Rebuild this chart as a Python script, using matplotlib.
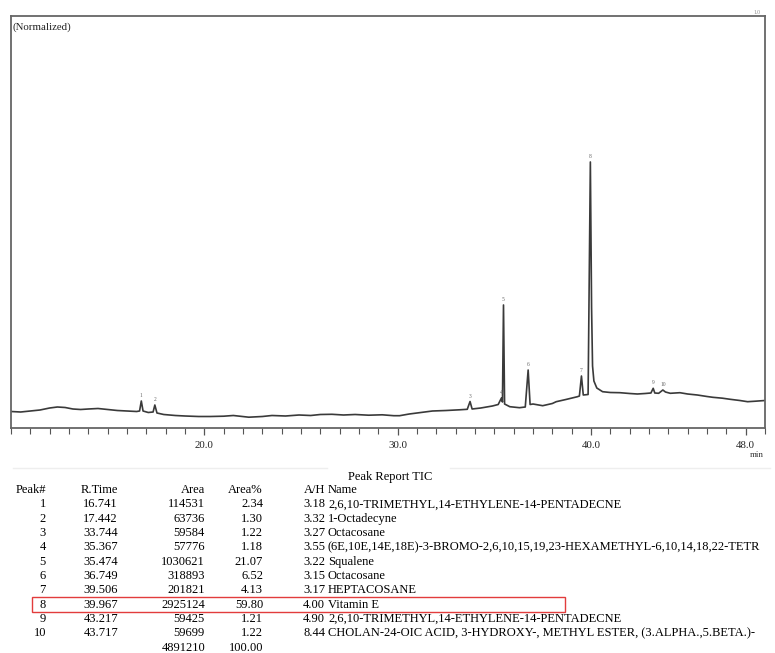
import matplotlib.pyplot as plt
from matplotlib.patches import Rectangle
from matplotlib.ticker import MultipleLocator, FixedLocator

# chromatogram trace (time in min, relative intensity)
rt_trace = [10.0, 10.5, 11.0, 11.5, 12.0, 12.4, 12.8, 13.2, 13.6, 14.0, 14.5, 15.0, 15.5,
            16.0, 16.5, 16.65, 16.74, 16.83, 17.1, 17.35, 17.44, 17.55, 17.9, 18.5, 19.0,
            19.7, 20.3, 21.0, 21.5, 22.3, 23.0, 23.5, 24.2, 24.9, 25.5, 26.0, 26.6, 27.2,
            27.8, 28.5, 29.2, 29.8, 30.1, 30.6, 31.2, 31.8, 32.5, 33.2, 33.6, 33.744, 33.85,
            34.3, 34.9, 35.2, 35.367, 35.42, 35.474, 35.53, 35.8, 36.3, 36.6, 36.749, 36.85,
            37.0, 37.5, 38.0, 38.2, 38.7, 39.3, 39.4, 39.506, 39.6, 39.85, 39.967, 40.03,
            40.08, 40.15, 40.3, 40.6, 41.0, 41.5, 42.0, 42.4, 42.8, 43.1, 43.217, 43.3,
            43.5, 43.717, 43.85, 44.1, 44.6, 45.0, 45.5, 46.0, 46.3, 46.8, 47.2, 47.7,
            48.1, 48.5, 49.0]
int_trace = [16.5, 16.0, 17.0, 18.0, 20.0, 21.0, 20.5, 19.0, 18.5, 19.0, 19.5, 18.5, 17.5,
             17.0, 16.5, 17.0, 27.0, 17.0, 15.5, 16.0, 23.0, 15.0, 13.5, 12.5, 12.0,
             11.5, 11.5, 11.8, 12.5, 10.8, 11.5, 12.5, 12.0, 13.0, 12.5, 13.5, 13.7, 13.0,
             13.5, 12.8, 13.2, 12.3, 12.3, 14.0, 15.5, 17.0, 17.5, 18.2, 18.7, 26.5, 19.0,
             20.0, 22.0, 23.5, 30.0, 26.0, 123.0, 24.0, 21.3, 20.3, 21.0, 58.0, 23.5,
             24.0, 22.3, 24.5, 26.3, 28.5, 31.3, 32.0, 52.0, 33.0, 33.5, 266.0, 120.0,
             62.0, 47.0, 40.0, 36.3, 35.5, 35.3, 34.5, 34.0, 34.5, 35.0, 39.7, 35.0,
             34.7, 38.0, 36.0, 34.7, 35.3, 34.0, 33.0, 31.5, 30.7, 29.8, 28.7, 27.5,
             26.3, 26.8, 27.5]

# peak report table
peak_no = ["1", "2", "3", "4", "5", "6", "7", "8", "9", "10"]
r_time = ["16.741", "17.442", "33.744", "35.367", "35.474", "36.749", "39.506", "39.967", "43.217", "43.717"]
area = ["114531", "63736", "59584", "57776", "1030621", "318893", "201821", "2925124", "59425", "59699"]
area_pct = ["2.34", "1.30", "1.22", "1.18", "21.07", "6.52", "4.13", "59.80", "1.21", "1.22"]
a_h = ["3.18", "3.32", "3.27", "3.55", "3.22", "3.15", "3.17", "4.00", "4.90", "8.44"]
names = ["2,6,10-TRIMETHYL,14-ETHYLENE-14-PENTADECNE",
         "1-Octadecyne",
         "Octacosane",
         "(6E,10E,14E,18E)-3-BROMO-2,6,10,15,19,23-HEXAMETHYL-6,10,14,18,22-TETR",
         "Squalene",
         "Octacosane",
         "HEPTACOSANE",
         "Vitamin E",
         "2,6,10-TRIMETHYL,14-ETHYLENE-14-PENTADECNE",
         "CHOLAN-24-OIC ACID, 3-HYDROXY-, METHYL ESTER, (3.ALPHA.,5.BETA.)-"]
total_area = "4891210"
total_pct = "100.00"
peak_top = [27.0, 23.0, 26.5, 30.0, 123.0, 58.0, 52.0, 266.0, 39.7, 38.0]

W, H = 775, 653
plt.rcParams['font.family'] = ['Liberation Serif', 'DejaVu Serif']
fig = plt.figure(figsize=(W / 100, H / 100), dpi=100)


def fx(x):
    return x / W


def fy(y):
    return 1 - y / H


ax = fig.add_axes([fx(11), fy(428), fx(765) - fx(11), fy(16) - fy(428)])
ax.plot(rt_trace, int_trace, color='#3a3a3a', lw=1.2)
ax.set_xlim(10.0, 49.0)
ax.set_ylim(0, 412)
ax.set_yticks([])
ax.xaxis.set_major_locator(FixedLocator([20, 30, 40, 48]))
ax.xaxis.set_minor_locator(MultipleLocator(1))
ax.xaxis.set_major_formatter(lambda v, p: f"{v:.1f}")
ax.tick_params(axis='x', which='major', direction='out', length=5, width=0.9,
               color='#555555', labelsize=7.8, pad=4, labelcolor='#222222')
ax.tick_params(axis='x', which='minor', direction='out', length=4, width=0.8, color='#555555')
for s in ax.spines.values():
    s.set_color('#666666')
    s.set_linewidth(1.3)

for i, t in enumerate(r_time):
    ax.text(float(t), peak_top[i] + 3, peak_no[i], fontsize=4, color='#666666',
            ha='center', va='bottom')

ax.text(0.002, 0.985, "(Normalized)", transform=ax.transAxes, fontsize=7.8,
        ha='left', va='top', color='#222222')
fig.text(fx(757), fy(12), "1.0", fontsize=4, color='#888888', ha='center', va='center')
fig.text(fx(757), fy(455), "min", fontsize=6.5, color='#333333', ha='center', va='center')

# peak report table
fs = 9.0
fig.text(fx(390), fy(477), "Peak Report TIC", fontsize=fs, ha='center', va='center')
cols = [(46, 'right', "Peak#", peak_no), (118, 'right', "R.Time", r_time),
        (205, 'right', "Area", area), (263, 'right', "Area%", area_pct),
        (325, 'right', "A/H", a_h), (328, 'left', "Name", names)]
y0 = 490
dy = 14.35
for x, ha, head, vals in cols:
    fig.text(fx(x), fy(y0), head, fontsize=fs, ha=ha, va='center')
    for i, v in enumerate(vals):
        fig.text(fx(x), fy(y0 + dy * (i + 1)), v, fontsize=fs, ha=ha, va='center')
fig.text(fx(205), fy(y0 + dy * 11), total_area, fontsize=fs, ha='right', va='center')
fig.text(fx(263), fy(y0 + dy * 11), total_pct, fontsize=fs, ha='right', va='center')

fig.add_artist(plt.Line2D([fx(13), fx(327)], [fy(468), fy(468)], color='#eeeeee', lw=1))
fig.add_artist(plt.Line2D([fx(450), fx(770)], [fy(468), fy(468)], color='#eeeeee', lw=1))

# highlight box around the Vitamin E row
fig.add_artist(Rectangle((fx(32), fy(612)), fx(565) - fx(32), fy(597) - fy(612),
                         fill=False, edgecolor='#e23c3c', lw=1.0, transform=fig.transFigure))

fig.savefig("out.png", dpi=100)
